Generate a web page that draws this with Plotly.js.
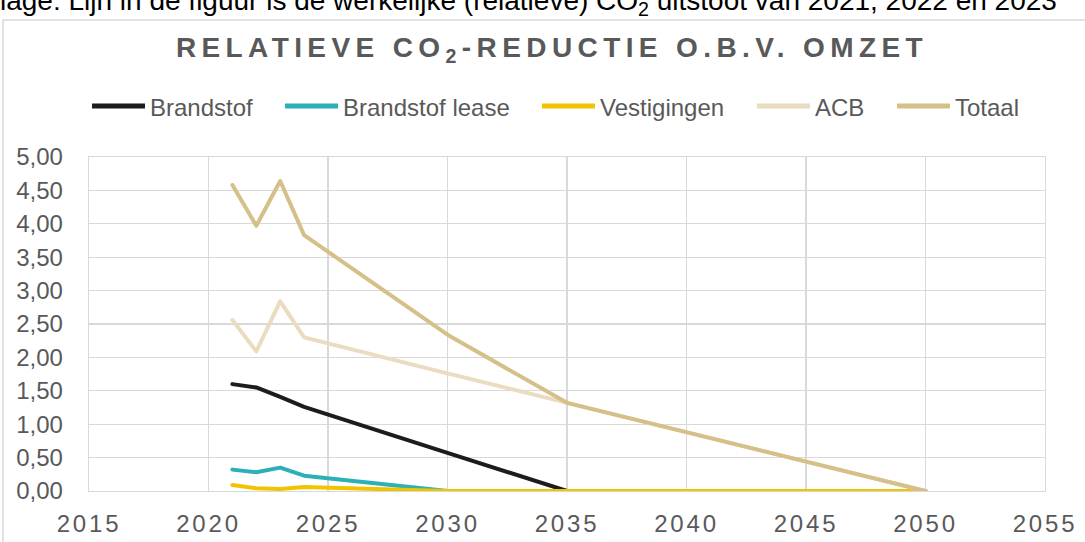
<!DOCTYPE html>
<html>
<head>
<meta charset="utf-8">
<script src="https://cdn.plot.ly/plotly-3.0.1.min.js"></script>
<style>
  html, body { margin: 0; padding: 0; background: #ffffff; }
  #chart { width: 1085px; height: 542px; }
  .gtitle { letter-spacing: 5.4px; }
  .xtick text { letter-spacing: 2.8px; }
  .scatterlayer path.js-line { stroke-linejoin: round; stroke-linecap: round; }
</style>
</head>
<body>
<div id="chart"></div>
<script>
// ---- data ----
const years = [2021, 2022, 2023, 2024, 2030, 2035, 2050];
const brandstof      = [1.60, 1.55, 1.41, 1.26, 0.57, 0.00, 0.00];
const brandstofLease = [0.32, 0.28, 0.35, 0.23, 0.00, 0.00, 0.00];
const vestigingen    = [0.09, 0.04, 0.03, 0.06, 0.00, 0.00, 0.00];
const acb            = [2.56, 2.09, 2.84, 2.30, 1.76, 1.32, 0.00];
const totaal         = [4.58, 3.97, 4.64, 3.83, 2.34, 1.32, 0.00];

const seriesNames = ['Brandstof', 'Brandstof lease', 'Vestigingen', 'ACB', 'Totaal'];
const xTickVals = [2015, 2020, 2025, 2030, 2035, 2040, 2045, 2050, 2055];
const xTickText = ['2015', '2020', '2025', '2030', '2035', '2040', '2045', '2050', '2055'];
const yTickVals = [0, 0.5, 1, 1.5, 2, 2.5, 3, 3.5, 4, 4.5, 5];
const yTickText = ['0,00', '0,50', '1,00', '1,50', '2,00', '2,50', '3,00', '3,50', '4,00', '4,50', '5,00'];
const chartTitle = 'RELATIEVE CO<sub>2</sub>-REDUCTIE O.B.V. OMZET';
const topNote = 'lage: Lijn in de figuur is de werkelijke (relatieve) CO<sub>2</sub> uitstoot van 2021, 2022 en 2023';

// ---- styles ----
const colors = ['#1c1c1c', '#2ab0b5', '#f3c300', '#eadcbf', '#d5c089'];
const seriesValues = [brandstof, brandstofLease, vestigingen, acb, totaal];
const textGray = '#595959';
const gridGray = '#d9d9d9';
const FONT = 'Liberation Sans, Arial, Helvetica, sans-serif';

// ---- geometry helpers (pixel -> paper) ----
const W = 1085, H = 542;
const M = { l: 89, r: 40, t: 157, b: 51 };
const PW = W - M.l - M.r, PH = H - M.t - M.b;
const px = p => (p - M.l) / PW;
const py = p => (H - M.b - p) / PH;

const traces = seriesNames.map((name, i) => ({
  type: 'scatter',
  mode: 'lines',
  name: name,
  x: years,
  y: seriesValues[i],
  line: { color: colors[i], width: 4 },
  showlegend: false,
  hoverinfo: 'x+y+name'
}));

// custom legend
const legLineStart = [92, 285, 542, 757, 897];
const legLineLen = 53;
const legY = 106;
const shapes = [
  { type: 'rect', xref: 'paper', yref: 'paper', x0: px(3), x1: px(1110), y0: py(570), y1: py(20),
    line: { color: gridGray, width: 1.5 }, fillcolor: 'rgba(0,0,0,0)', layer: 'below' }
];
const annotations = [
  { xref: 'paper', yref: 'paper', x: px(-2), y: py(2), xanchor: 'left', yanchor: 'middle',
    text: topNote, showarrow: false, font: { family: FONT, size: 28, color: '#000000' } }
];
seriesNames.forEach((name, i) => {
  shapes.push({ type: 'line', xref: 'paper', yref: 'paper',
    x0: px(legLineStart[i]), x1: px(legLineStart[i] + legLineLen), y0: py(legY), y1: py(legY),
    line: { color: colors[i], width: 5 } });
  annotations.push({ xref: 'paper', yref: 'paper', x: px(legLineStart[i] + legLineLen + 3), y: py(legY + 1),
    xanchor: 'left', yanchor: 'middle', text: name, showarrow: false,
    font: { family: FONT, size: 24, color: textGray } });
});

const layout = {
  width: W, height: H,
  margin: M,
  paper_bgcolor: '#ffffff', plot_bgcolor: '#ffffff',
  font: { family: FONT, color: textGray, size: 24 },
  separators: ',.',
  title: {
    text: chartTitle,
    font: { family: FONT, size: 28, color: textGray, weight: 'bold' },
    xref: 'paper', x: px(552), xanchor: 'center',
    yref: 'container', y: 1 - 47 / H, yanchor: 'middle'
  },
  showlegend: false,
  xaxis: {
    range: [2015, 2055], tickvals: xTickVals, ticktext: xTickText,
    showgrid: true, gridcolor: gridGray, gridwidth: 1.3,
    showline: true, linecolor: gridGray, linewidth: 1.3, mirror: true,
    zeroline: false, ticks: '', ticklabelstandoff: 11,
    tickfont: { family: FONT, size: 24, color: textGray }, fixedrange: true
  },
  yaxis: {
    range: [0, 5], tickvals: yTickVals, ticktext: yTickText,
    showgrid: true, gridcolor: gridGray, gridwidth: 1.3,
    showline: true, linecolor: gridGray, linewidth: 1.3, mirror: true,
    zeroline: false, ticks: '', ticklabelstandoff: 20,
    tickfont: { family: FONT, size: 24, color: textGray }, fixedrange: true
  },
  shapes: shapes,
  annotations: annotations
};

Plotly.newPlot('chart', traces, layout, { displayModeBar: false, staticPlot: true });
</script>
</body>
</html>
